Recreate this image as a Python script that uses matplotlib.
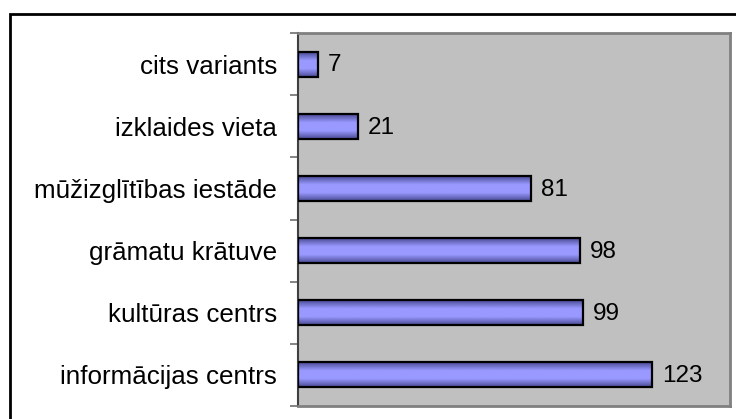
import numpy as np
import matplotlib
matplotlib.use('Agg')
import matplotlib.pyplot as plt
from matplotlib.colors import LinearSegmentedColormap
from matplotlib.patches import Rectangle

plt.rcParams['font.family'] = ['Liberation Sans', 'DejaVu Sans']

categories = ['informācijas centrs', 'kultūras centrs', 'grāmatu krātuve',
              'mūžizglītības iestāde', 'izklaides vieta', 'cits variants']
values = [123, 99, 98, 81, 21, 7]

fig = plt.figure(figsize=(7.36, 4.19), dpi=100)
W, H = 736, 419

# outer chart border (black, clipped at right/bottom like the original)
fig.patches.append(Rectangle((10 / W, -0.1), 1.2, (H - 14) / H + 0.1,
                             transform=fig.transFigure, fill=False,
                             edgecolor='black', linewidth=2))

ax = fig.add_axes([298 / W, 13 / H, (730 - 298) / W, (406 - 33) / H])
ax.set_facecolor('#c0c0c0')

pos = np.arange(len(categories))
bar_h = 0.4
grad = LinearSegmentedColormap.from_list('g', ['#4b4b96', '#9999ff', '#9999ff', '#4b4b96'])
g = np.linspace(0, 1, 64).reshape(-1, 1)

bars = ax.barh(pos, values, height=bar_h, color='none', edgecolor='black',
               linewidth=1.6, zorder=3)
for b, v, y in zip(bars, values, pos):
    ax.imshow(g, cmap=grad, aspect='auto', zorder=2, interpolation='bilinear',
              extent=[0, v, y - bar_h / 2, y + bar_h / 2])
    ax.annotate(str(v), (v, y), xytext=(7, -1), textcoords='offset points',
                va='center', ha='left', fontsize=17.5)

ax.set_xlim(0, 150)
ax.set_ylim(-0.5, len(categories) - 0.5)

ax.set_yticks(pos)
ax.set_yticklabels(categories, fontsize=18.7)
ax.set_yticks(np.arange(-0.5, len(categories), 1.0), minor=True)
ax.tick_params(axis='y', which='major', length=0, pad=15)
ax.tick_params(axis='y', which='minor', length=6, width=1.2, color='#707070')
ax.set_xticks([])

for s in ['top', 'right', 'bottom']:
    ax.spines[s].set_color('#808080')
    ax.spines[s].set_linewidth(2)
ax.spines['left'].set_color('#404040')
ax.spines['left'].set_linewidth(1.5)

fig.savefig('out.png', dpi=100)
